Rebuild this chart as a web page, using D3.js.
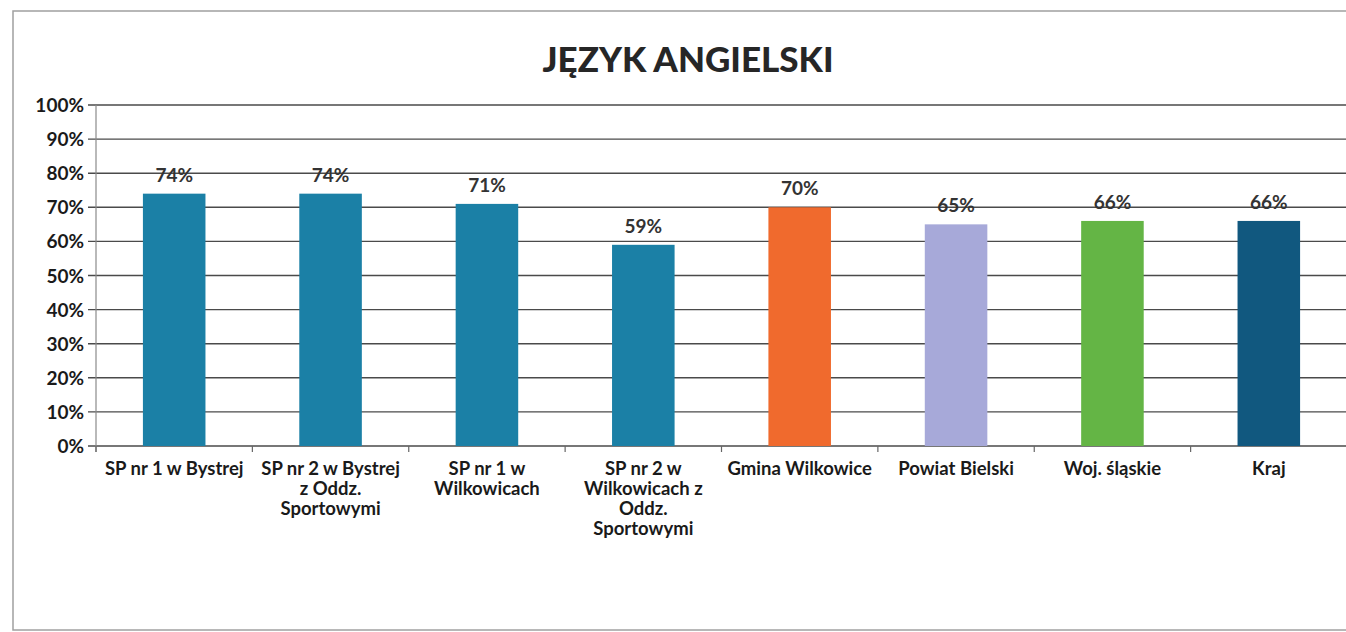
<!DOCTYPE html>
<html><head><meta charset="utf-8">
<script src="https://cdn.jsdelivr.net/npm/d3@7"></script>
<style>body{margin:0;background:#fff}svg{display:block}text{font-family:Lato,"Open Sans",sans-serif}</style>
</head><body>
<svg id="c" width="1346" height="632"></svg>
<script>
const title = "JĘZYK ANGIELSKI";
const categories = [
  ["SP nr 1 w Bystrej"],
  ["SP nr 2 w Bystrej", "z Oddz.", "Sportowymi"],
  ["SP nr 1 w", "Wilkowicach"],
  ["SP nr 2 w", "Wilkowicach z", "Oddz.", "Sportowymi"],
  ["Gmina Wilkowice"],
  ["Powiat Bielski"],
  ["Woj. śląskie"],
  ["Kraj"]
];
const values = [74, 74, 71, 59, 70, 65, 66, 66];
const colors = ["#1b80a6","#1b80a6","#1b80a6","#1b80a6","#f06a2d","#a7a9d9","#64b545","#11587f"];
const yTicks = [0,10,20,30,40,50,60,70,80,90,100];

const svg = d3.select("#c");
const W = 1346, H = 632;
const m = {left: 96, right: -1, top: 105, bottom: 186};
const x = d3.scaleBand().domain(d3.range(categories.length)).range([m.left, W - m.right]).paddingInner(0.6).paddingOuter(0.3);
const y = d3.scaleLinear().domain([0,100]).range([H - m.bottom, m.top]);

// frame
svg.append("rect").attr("x",13).attr("y",11).attr("width",1400).attr("height",619)
  .attr("fill","none").attr("stroke","#a0a0a0").attr("stroke-width",1.5);

svg.append("text").attr("x",688).attr("y",72).attr("text-anchor","middle")
  .attr("font-size",35).attr("font-weight",900).attr("fill","#262626").text(title);

// gridlines
svg.append("g").selectAll("line").data(yTicks).join("line")
  .attr("x1", m.left - 8).attr("x2", W).attr("y1", d=>y(d)).attr("y2", d=>y(d))
  .attr("stroke","#4a4a4a").attr("stroke-width",1.4);

// y axis line
svg.append("line").attr("x1",m.left).attr("x2",m.left).attr("y1",y(100)).attr("y2",y(0)+6)
  .attr("stroke","#8a8a8a").attr("stroke-width",1.2);

// y labels
svg.append("g").selectAll("text").data(yTicks).join("text")
  .attr("x", 84).attr("y", d=>y(d)+7).attr("text-anchor","end")
  .attr("font-size",19).attr("font-weight",700).attr("fill","#1a1a1a").text(d=>d+"%");

// x ticks
const tickXs = d3.range(categories.length+1).map(i => m.left + i*(W - m.right - m.left)/categories.length);
svg.append("g").selectAll("line").data(tickXs).join("line")
  .attr("x1",d=>d).attr("x2",d=>d).attr("y1",y(0)).attr("y2",y(0)+6)
  .attr("stroke","#666").attr("stroke-width",1.2);

// bars
svg.append("g").selectAll("rect").data(values).join("rect")
  .attr("x",(d,i)=>x(i)).attr("width",x.bandwidth())
  .attr("y",d=>y(d)).attr("height",d=>y(0)-y(d))
  .attr("fill",(d,i)=>colors[i]);

// value labels
svg.append("g").selectAll("text").data(values).join("text")
  .attr("x",(d,i)=>x(i)+x.bandwidth()/2).attr("y",d=>y(d)-12)
  .attr("text-anchor","middle").attr("font-size",19).attr("font-weight",700).attr("fill","#333")
  .text(d=>d+"%");

// category labels
const cg = svg.append("g").selectAll("text").data(categories).join("text")
  .attr("x",(d,i)=>x(i)+x.bandwidth()/2).attr("y", y(0)+29)
  .attr("text-anchor","middle").attr("font-size",18.5).attr("font-weight",700).attr("fill","#1a1a1a");
cg.selectAll("tspan").data(d=>d).join("tspan")
  .attr("x", function(){ return d3.select(this.parentNode).attr("x"); })
  .attr("dy",(d,i)=> i===0 ? 0 : 20).text(d=>d);
</script>
</body></html>
